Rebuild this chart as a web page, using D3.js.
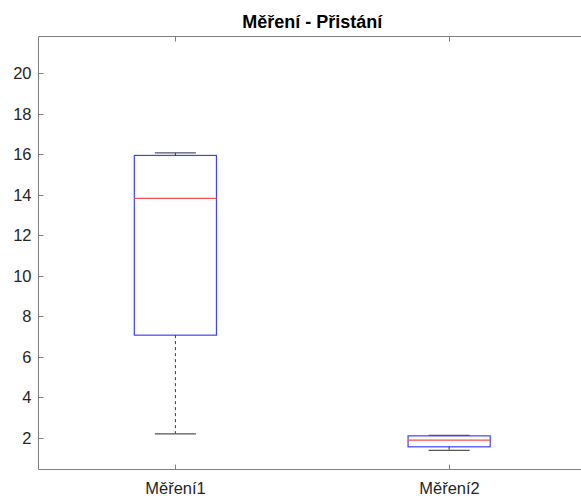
<!DOCTYPE html>
<html>
<head>
<meta charset="utf-8">
<script src="https://cdn.jsdelivr.net/npm/d3@7"></script>
<style>
  body { margin:0; background:#fff; overflow:hidden; }
  text { font-family: "Liberation Sans", Arial, Helvetica, sans-serif; fill:#262626; }
</style>
</head>
<body>
<div id="chart"></div>
<script>
// box plot stats
var categories = ["Měření1", "Měření2"];
var whiskerLow = [2.2, 1.38];
var q1 = [7.07, 1.56];
var median = [13.82, 1.89];
var q3 = [15.94, 2.1];
var whiskerHigh = [16.07, 2.12];
var yTicks = [2, 4, 6, 8, 10, 12, 14, 16, 18, 20];

var W = 581, H = 496;
var plotL = 38.5, plotR = 586, plotT = 36.5, plotB = 469.5;

var data = categories.map(function(c, i){
  return {name:c, pos:i+1, lo:whiskerLow[i], q1:q1[i], med:median[i], q3:q3[i], hi:whiskerHigh[i]};
});

var x = d3.scaleLinear().domain([0.5, 2.5]).range([plotL, plotR]);
var y = d3.scaleLinear().domain([0.44, 21.81]).range([plotB, plotT]);

var svg = d3.select("#chart").append("svg")
  .attr("width", W).attr("height", H);

var axisCol = "#808080";

// axes frame (right side falls outside the picture)
var frame = svg.append("g").classed("frame", true);
frame.append("line").attr("x1", plotL).attr("x2", plotL).attr("y1", plotT).attr("y2", plotB).attr("stroke", axisCol);
frame.append("line").attr("x1", plotL).attr("x2", W).attr("y1", plotT).attr("y2", plotT).attr("stroke", axisCol);
frame.append("line").attr("x1", plotL).attr("x2", W).attr("y1", plotB).attr("y2", plotB).attr("stroke", axisCol);

// y ticks (inward, both sides)
var yt = svg.append("g").classed("yticks", true);
yTicks.forEach(function(t){
  var yy = Math.round(y(t)) + 0.5;
  yt.append("line").attr("x1", plotL).attr("x2", plotL+5).attr("y1", yy).attr("y2", yy).attr("stroke", axisCol);
  yt.append("line").attr("x1", plotR).attr("x2", plotR-5).attr("y1", yy).attr("y2", yy).attr("stroke", "#e0e0e0");
  yt.append("text").attr("x", plotL-7).attr("y", yy).attr("dy", "0.36em")
    .attr("text-anchor", "end").style("font-size", "16.5px").text(t);
});

// x ticks
var xt = svg.append("g").classed("xticks", true);
data.forEach(function(d){
  var xx = Math.round(x(d.pos)) + 0.5;
  xt.append("line").attr("x1", xx).attr("x2", xx).attr("y1", plotB).attr("y2", plotB-5).attr("stroke", axisCol);
  xt.append("line").attr("x1", xx).attr("x2", xx).attr("y1", plotT).attr("y2", plotT+5).attr("stroke", axisCol);
  xt.append("text").attr("x", xx).attr("y", plotB+19).attr("dy", "0.36em")
    .attr("text-anchor", "middle").style("font-size", "16.5px").text(d.name);
});

var boxHalf = 0.15, capHalf = 0.075;

var g = svg.append("g").classed("boxes", true);

function plot(params){
  // boxes
  this.selectAll(".box").data(params.data).enter().append("rect")
    .classed("box", true)
    .attr("x", function(d){ return x(d.pos - boxHalf); })
    .attr("y", function(d){ return y(d.q3); })
    .attr("width", function(d){ return x(d.pos + boxHalf) - x(d.pos - boxHalf); })
    .attr("height", function(d){ return y(d.q1) - y(d.q3); })
    .attr("fill", "none").attr("stroke", "#4040ff").attr("stroke-width", 1.2);
  // whiskers
  this.selectAll(".wlo").data(params.data).enter().append("line")
    .classed("wlo", true)
    .attr("x1", function(d){ return x(d.pos); }).attr("x2", function(d){ return x(d.pos); })
    .attr("y1", function(d){ return y(d.q1); }).attr("y2", function(d){ return y(d.lo); })
    .attr("stroke", "#333").attr("stroke-dasharray", "3,3");
  this.selectAll(".whi").data(params.data).enter().append("line")
    .classed("whi", true)
    .attr("x1", function(d){ return x(d.pos); }).attr("x2", function(d){ return x(d.pos); })
    .attr("y1", function(d){ return y(d.q3); }).attr("y2", function(d){ return y(d.hi); })
    .attr("stroke", "#333").attr("stroke-dasharray", "3,3");
  // caps
  this.selectAll(".caplo").data(params.data).enter().append("line")
    .classed("caplo", true)
    .attr("x1", function(d){ return x(d.pos - capHalf); }).attr("x2", function(d){ return x(d.pos + capHalf); })
    .attr("y1", function(d){ return y(d.lo); }).attr("y2", function(d){ return y(d.lo); })
    .attr("stroke", "#555").attr("stroke-width", 1.2);
  this.selectAll(".caphi").data(params.data).enter().append("line")
    .classed("caphi", true)
    .attr("x1", function(d){ return x(d.pos - capHalf); }).attr("x2", function(d){ return x(d.pos + capHalf); })
    .attr("y1", function(d){ return y(d.hi); }).attr("y2", function(d){ return y(d.hi); })
    .attr("stroke", "#555").attr("stroke-width", 1.2);
  // medians
  this.selectAll(".med").data(params.data).enter().append("line")
    .classed("med", true)
    .attr("x1", function(d){ return x(d.pos - boxHalf); }).attr("x2", function(d){ return x(d.pos + boxHalf); })
    .attr("y1", function(d){ return y(d.med); }).attr("y2", function(d){ return y(d.med); })
    .attr("stroke", "#ff5050").attr("stroke-width", 1.2);
}
plot.call(g, {data: data});

// title
svg.append("text")
  .attr("x", (plotL+plotR)/2).attr("y", 28)
  .attr("text-anchor", "middle")
  .style("font-size", "18px").style("font-weight", "bold")
  .style("fill", "#000")
  .text("Měření - Přistání");
</script>
</body>
</html>
